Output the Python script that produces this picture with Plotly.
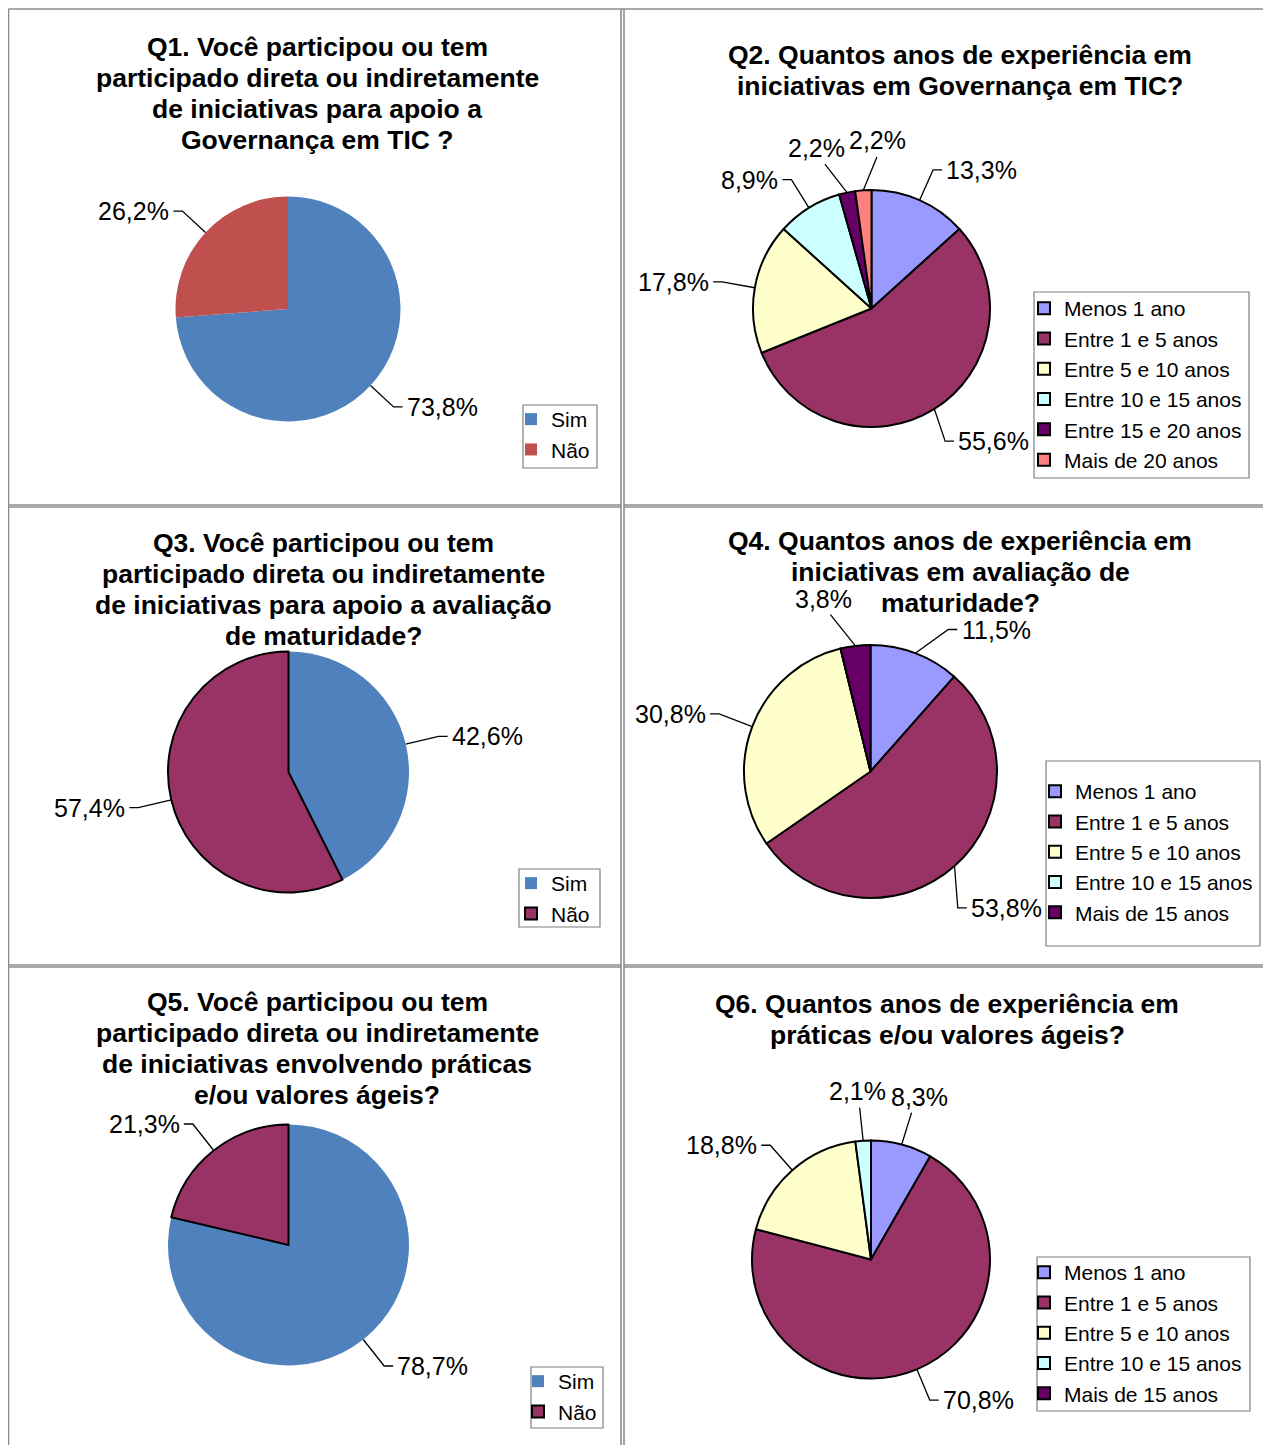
import math
import plotly.graph_objects as go

W, H = 1271, 1445
OFF = 8                      # default page margin of the html body
FW, FH = W - OFF, H - OFF    # figure size so that it fills the window

# ---------------- data ----------------
yn_labels = ["Sim", "Não"]
q1_values = [73.8, 26.2]
q3_values = [42.6, 57.4]
q5_values = [78.7, 21.3]

q2_labels = ["Menos 1 ano", "Entre 1 e 5 anos", "Entre 5 e 10 anos",
             "Entre 10 e 15 anos", "Entre 15 e 20 anos", "Mais de 20 anos"]
q2_values = [13.3, 55.6, 17.8, 8.9, 2.2, 2.2]

q46_labels = ["Menos 1 ano", "Entre 1 e 5 anos", "Entre 5 e 10 anos",
              "Entre 10 e 15 anos", "Mais de 15 anos"]
q4_values = [11.5, 53.8, 30.8, 0.0, 3.8]
q6_values = [8.3, 70.8, 18.8, 2.1, 0.0]

q1_title = ["Q1. Você participou ou tem", "participado direta ou indiretamente",
            "de iniciativas para apoio a", "Governança em TIC ?"]
q2_title = ["Q2. Quantos anos de experiência em", "iniciativas em Governança em TIC?"]
q3_title = ["Q3. Você participou ou tem", "participado direta ou indiretamente",
            "de iniciativas para apoio a avaliação", "de maturidade?"]
q4_title = ["Q4. Quantos anos de experiência em", "iniciativas em avaliação de",
            "maturidade?"]
q5_title = ["Q5. Você participou ou tem", "participado direta ou indiretamente",
            "de iniciativas envolvendo práticas", "e/ou valores ágeis?"]
q6_title = ["Q6. Quantos anos de experiência em", "práticas e/ou valores ágeis?"]

# ---------------- styles ----------------
FONT = "Liberation Sans, Arial, sans-serif"
BLUE, RED, MAROON = "#4F81BD", "#C0504D", "#993366"
EXP6 = ["#9999FF", "#993366", "#FFFFCC", "#CCFFFF", "#660066", "#FF8080"]
EXP5 = ["#9999FF", "#993366", "#FFFFCC", "#CCFFFF", "#660066"]

charts = [
    dict(labels=yn_labels, values=q1_values, colors=[BLUE, RED], lw=[0, 0],
         c=(288, 309), d=225, title=q1_title, tx=317, ty=47,
         lbox=(523, 405, 597, 468), ltext=548, lfirst=420),
    dict(labels=q2_labels, values=q2_values, colors=EXP6, lw=[2] * 6,
         c=(871.5, 308.5), d=237, title=q2_title, tx=960, ty=55,
         lbox=(1034, 292, 1249, 478), ltext=1061, lfirst=309),
    dict(labels=yn_labels, values=q3_values, colors=[BLUE, MAROON], lw=[0, 2],
         c=(288.5, 772), d=241, title=q3_title, tx=323, ty=543,
         lbox=(519, 869, 600, 927), ltext=548, lfirst=884),
    dict(labels=q46_labels, values=q4_values, colors=EXP5, lw=[2] * 5,
         c=(870.5, 771.5), d=253, title=q4_title, tx=960, ty=541,
         lbox=(1046, 761, 1260, 946), ltext=1072, lfirst=792),
    dict(labels=yn_labels, values=q5_values, colors=[BLUE, MAROON], lw=[0, 2],
         c=(288.5, 1245), d=241, title=q5_title, tx=317, ty=1002,
         lbox=(531, 1367, 603, 1428), ltext=555, lfirst=1382),
    dict(labels=q46_labels, values=q6_values, colors=EXP5, lw=[2] * 5,
         c=(871, 1259.5), d=238, title=q6_title, tx=947, ty=1004,
         lbox=(1037, 1257, 1250, 1411), ltext=1061, lfirst=1273),
]

LABEL_FS = 25
LEGEND_FS = 21
TITLE_FS = 26.5
TITLE_LH = 31

CW = {"0": .556, "1": .556, "2": .556, "3": .556, "4": .556, "5": .556,
      "6": .556, "7": .556, "8": .556, "9": .556, ",": .278, "%": .889}


def px_x(x):
    return (x - OFF) / FW


def px_y(y):
    return 1 - (y - OFF) / FH


def text_w(t, fs):
    return sum(CW.get(ch, .556) for ch in t) * fs


def overlap(a, b):
    ox = min(a[2], b[2]) - max(a[0], b[0])
    oy = min(a[3], b[3]) - max(a[1], b[1])
    return max(ox, 0) * max(oy, 0)


def layout_labels(values, cx, cy, r, fs, obstacles, k=1.28, gap=4, stub=9):
    total = sum(values)
    items, cum = [], 0.0
    for v in values:
        mid = (cum + v / 2) / total * 360
        cum += v
        if v <= 0:
            continue
        txt = f"{v:.1f}".replace(".", ",") + "%"
        items.append(dict(mid=mid, ang=mid, txt=txt, w=text_w(txt, fs), h=fs))

    def geom(it, ang=None):
        a = math.radians(it["ang"] if ang is None else ang)
        s, c = math.sin(a), math.cos(a)
        px, py = cx + k * r * s, cy - k * r * c
        if abs(s) > 0.35:
            sg = math.copysign(1, s)
            qx = px + sg * stub
            lx = qx + sg * (it["w"] / 2 + gap)
            ly = py
        else:
            qx = px
            lx = px + s * it["w"] / 2
            ly = py - c * (it["h"] / 2 + gap)
        return px, py, qx, lx, ly

    def box(it, ang=None):
        _, _, _, lx, ly = geom(it, ang)
        return (lx - it["w"] / 2 - 2, ly - it["h"] / 2 - 1,
                lx + it["w"] / 2 + 2, ly + it["h"] / 2 + 1)

    for _ in range(900):
        moved = False
        for i in range(len(items)):
            for j in range(i + 1, len(items)):
                if overlap(box(items[i]), box(items[j])) > 0:
                    dd = (items[j]["ang"] - items[i]["ang"] + 180) % 360 - 180
                    sg = 1 if dd >= 0 else -1
                    items[i]["ang"] -= 0.5 * sg
                    items[j]["ang"] += 0.5 * sg
                    moved = True
        for it in items:
            for ob in obstacles:
                if overlap(box(it), ob) > 0:
                    plus = overlap(box(it, it["ang"] + 1), ob)
                    minus = overlap(box(it, it["ang"] - 1), ob)
                    if plus < minus:
                        it["ang"] += 0.5
                    elif minus < plus:
                        it["ang"] -= 0.5
                    else:
                        _, _, _, lx, _ = geom(it)
                        up = math.cos(math.radians(it["ang"])) > 0
                        right = lx > (ob[0] + ob[2]) / 2
                        it["ang"] += 0.5 if (right == up) else -0.5
                    moved = True
        if not moved:
            break
    out = []
    for it in items:
        px, py, qx, lx, ly = geom(it)
        a = math.radians(it["mid"])
        ex, ey = cx + r * math.sin(a), cy - r * math.cos(a)
        out.append((it["txt"], ex, ey, px, py, qx, lx, ly))
    return out


fig = go.Figure()
annotations, shapes = [], []
layout_legends = {}

for n, ch in enumerate(charts):
    cx, cy = ch["c"]
    r = ch["d"] / 2
    legname = "legend" if n == 0 else f"legend{n + 1}"
    # invisible suffix keeps each pie's legend entries separate
    uniq = [lab + "\u200b" * (n + 1) for lab in ch["labels"]]
    fig.add_trace(go.Pie(
        labels=uniq, values=ch["values"], sort=False,
        direction="clockwise", rotation=0,
        marker=dict(colors=ch["colors"], line=dict(color="black", width=ch["lw"])),
        textinfo="none", hoverinfo="label+percent",
        domain=dict(x=[px_x(cx - r), px_x(cx + r)],
                    y=[px_y(cy + r), px_y(cy - r)]),
        legend=legname, name=f"Q{n + 1}",
    ))
    # title lines
    obstacles = []
    for li, line in enumerate(ch["title"]):
        ty = ch["ty"] + li * TITLE_LH
        annotations.append(dict(
            x=px_x(ch["tx"]), y=px_y(ty), xref="paper", yref="paper",
            text=f"<b>{line}</b>", showarrow=False, xanchor="center", yanchor="middle",
            font=dict(family=FONT, size=TITLE_FS, color="black")))
        tw = len(line) * 0.56 * TITLE_FS
        obstacles.append((ch["tx"] - tw / 2, ty - 13, ch["tx"] + tw / 2, ty + 13))
    l, t, rr, b = ch["lbox"]
    obstacles.append((l - 2, t - 2, rr + 2, b + 2))
    # data labels + leader lines
    for txt, ex, ey, px, py, qx, lx, ly in layout_labels(ch["values"], cx, cy, r,
                                                         LABEL_FS, obstacles):
        annotations.append(dict(
            x=px_x(lx), y=px_y(ly), xref="paper", yref="paper", text=txt,
            showarrow=False, xanchor="center", yanchor="middle",
            font=dict(family=FONT, size=LABEL_FS, color="black")))
        shapes.append(dict(type="path", xref="paper", yref="paper",
                           path=f"M {px_x(ex)},{px_y(ey)} L {px_x(px)},{px_y(py)} "
                                f"L {px_x(qx)},{px_y(py)}",
                           line=dict(color="black", width=1.3)))
    # legend frame + legend
    shapes.append(dict(type="rect", xref="paper", yref="paper",
                       x0=px_x(l), x1=px_x(rr), y0=px_y(b), y1=px_y(t),
                       line=dict(color="#7f7f7f", width=1.2)))
    layout_legends[legname] = dict(
        x=px_x(ch["ltext"] - 37), y=px_y(ch["lfirst"] - 21),
        xanchor="left", yanchor="top",
        bgcolor="rgba(0,0,0,0)", borderwidth=0,
        font=dict(family=FONT, size=LEGEND_FS, color="black"),
        traceorder="normal")

# cell borders
GRID = "#8c8c8c"
border_lines = [
    (8.5, 9, 1268, 9), (8.5, 9, 8.5, 1445), (1268, 9, 1268, 1445),
    (621, 9, 621, 1445), (624, 9, 624, 1445),
    (8.5, 505, 621, 505), (624, 505, 1268, 505),
    (8.5, 507, 621, 507), (624, 507, 1268, 507),
    (8.5, 965, 621, 965), (624, 965, 1268, 965),
    (8.5, 967, 621, 967), (624, 967, 1268, 967),
]
for x0, y0, x1, y1 in border_lines:
    shapes.append(dict(type="line", xref="paper", yref="paper",
                       x0=px_x(x0), y0=px_y(y0), x1=px_x(x1), y1=px_y(y1),
                       line=dict(color=GRID, width=1.6)))

fig.update_layout(
    width=FW, height=FH, margin=dict(l=0, r=0, t=0, b=0),
    paper_bgcolor="white", plot_bgcolor="white",
    annotations=annotations, shapes=shapes,
    font=dict(family=FONT, color="black"),
    **layout_legends,
)

fig.write_html("out.html")
